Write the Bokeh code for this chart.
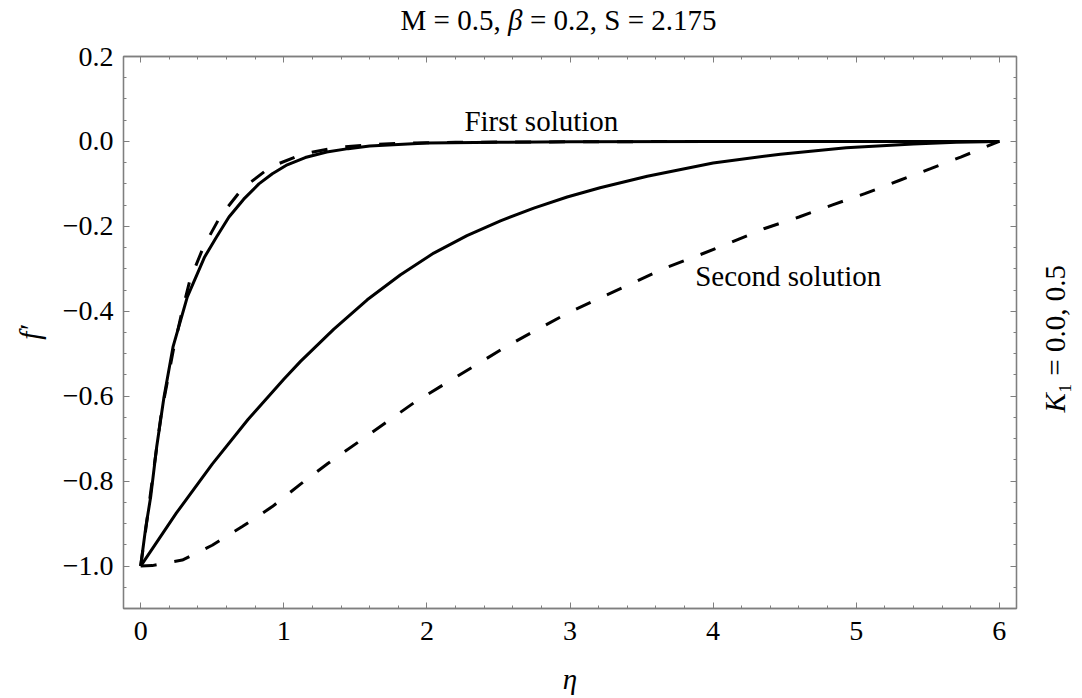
import math
from bokeh.plotting import figure
from bokeh.layouts import column, row
from bokeh.core.properties import value
from bokeh.models import (Range1d, LinearAxis, SingleIntervalTicker,
                          CustomJSTickFormatter, CustomLabelingPolicy, Label)
from bokeh.embed import file_html
from bokeh.resources import INLINE

# ---------------- data ----------------
eta_first_solid = [0.0, 0.035, 0.07, 0.112, 0.163, 0.226, 0.326, 0.447, 0.53,
                   0.617, 0.72, 0.826, 0.92, 1.024, 1.15, 1.3, 1.45, 1.6, 1.8,
                   2.0, 2.5, 3.0, 4.0, 5.0, 6.0]
fp_first_solid = [-1.0, -0.91, -0.837, -0.719, -0.602, -0.484, -0.366, -0.272,
                  -0.225, -0.178, -0.136, -0.100, -0.076, -0.055, -0.038,
                  -0.025, -0.017, -0.011, -0.007, -0.004, -0.002, -0.001,
                  0.0, 0.0, 0.0]

eta_first_dashed = [0.0, 0.035, 0.09, 0.144, 0.228, 0.286, 0.344, 0.438, 0.554,
                    0.71, 0.908, 1.129, 1.37, 1.63, 1.86, 2.2, 3.0, 4.0, 5.0,
                    6.0]
fp_first_dashed = [-1.0, -0.915, -0.775, -0.641, -0.492, -0.405, -0.327,
                   -0.249, -0.178, -0.111, -0.060, -0.030, -0.014, -0.007,
                   -0.004, -0.002, -0.001, 0.0, 0.0, 0.0]

eta_second_solid = [0.0, 0.25, 0.5, 0.75, 1.0, 1.117, 1.35, 1.583, 1.816,
                    2.048, 2.28, 2.514, 2.747, 2.98, 3.21, 3.54, 4.0, 4.47,
                    4.93, 5.4, 5.7, 6.0]
fp_second_solid = [-1.0, -0.875, -0.76, -0.655, -0.56, -0.518, -0.442, -0.373,
                   -0.314, -0.263, -0.222, -0.187, -0.157, -0.131, -0.109,
                   -0.082, -0.051, -0.030, -0.015, -0.006, -0.002, 0.0]

eta_second_dashed = [0.0, 0.08, 0.291, 0.5, 0.71, 0.92, 1.117, 1.31, 1.525,
                     1.722, 1.92, 2.13, 2.34, 2.55, 2.76, 2.98, 3.2, 3.43,
                     3.65, 3.9, 4.13, 4.36, 4.6, 4.83, 5.06, 5.3, 5.52, 5.73,
                     5.96, 6.0]
fp_second_dashed = [-1.0, -0.999, -0.986, -0.951, -0.907, -0.86, -0.807,
                    -0.758, -0.707, -0.66, -0.613, -0.57, -0.527, -0.484,
                    -0.445, -0.405, -0.37, -0.335, -0.30, -0.268, -0.237,
                    -0.205, -0.178, -0.15, -0.123, -0.092, -0.064, -0.037,
                    -0.005, 0.0]

title_parts = ["M = 0.5,", "\u03b2", "= 0.2, S = 2.175"]
x_label = "\u03b7"
y_label = "f\u2032"
right_parts = ["K", "\u2081 = 0.0, 0.5"]
first_label = "First solution"
second_label = "Second solution"

# ---------------- styling constants ----------------
FONT = "Liberation Serif"
FS = "29px"
TFS = "28px"
GRAY = "#7f7f7f"
TOP_H = 40
SIDE_W = 52
W, H = 1082, 698
MAIN_W = W - SIDE_W
MAIN_H = H - TOP_H
BL, BR = 123, 14             # main plot left / right borders (px)
FRAME_L, FRAME_R = BL, MAIN_W - BR
TX0 = 400                    # left edge of the title text (px)
TY = 19                      # title anchor (px from top)


def bare(fig):
    fig.outline_line_color = None
    fig.background_fill_color = "white"
    fig.border_fill_color = "white"
    fig.xgrid.visible = False
    fig.ygrid.visible = False
    fig.min_border_top = 0
    fig.min_border_bottom = 0


# ---------------- title strip (frame aligned with the main frame) ----------
pt = figure(width=MAIN_W, height=TOP_H, output_backend="svg",
            toolbar_location=None,
            x_range=Range1d(FRAME_L, FRAME_R), y_range=Range1d(TOP_H, 0),
            x_axis_location=None, y_axis_location=None)
bare(pt)
pt.min_border_left = BL
pt.min_border_right = BR
pt.text(x=[TX0], y=[TY], text=[title_parts[0]], text_font=value(FONT),
        text_font_size=FS, text_align="left", text_baseline="middle",
        text_color="black")
pt.text(x=[TX0 + 107.5], y=[TY], text=[title_parts[1]], text_font=value(FONT),
        text_font_size=FS, text_font_style="italic", text_align="left",
        text_baseline="middle", text_color="black")
pt.text(x=[TX0 + 129.5], y=[TY], text=[title_parts[2]], text_font=value(FONT),
        text_font_size=FS, text_align="left", text_baseline="middle",
        text_color="black")

# ---------------- main plot ----------------
p = figure(width=MAIN_W, height=MAIN_H, output_backend="svg",
           toolbar_location=None,
           x_range=Range1d(-0.12, 6.12), y_range=Range1d(-1.1, 0.2),
           x_axis_location=None, y_axis_location=None,
           min_border_left=BL, min_border_right=BR, min_border_top=16,
           min_border_bottom=90)
p.background_fill_color = "white"
p.border_fill_color = "white"
p.outline_line_color = GRAY
p.outline_line_width = 1.3
p.xgrid.visible = False
p.ygrid.visible = False

yfmt = CustomJSTickFormatter(
    code="return (tick < -1e-9 ? '\u2212' : '') + Math.abs(tick).toFixed(1);")

no_labels = CustomLabelingPolicy(
    code="for (const i of indices) { indices.unset(i) }\nreturn indices;")


def style_axis(ax, labels=True):
    ax.axis_line_color = GRAY
    ax.axis_line_width = 1.3
    ax.major_tick_line_color = GRAY
    ax.minor_tick_line_color = GRAY
    ax.major_tick_in = 6
    ax.major_tick_out = 0
    ax.minor_tick_in = 3
    ax.minor_tick_out = 0
    ax.major_tick_line_width = 1
    ax.minor_tick_line_width = 1
    ax.major_label_text_font = FONT
    ax.major_label_text_color = "black"
    ax.axis_label_text_font = FONT
    ax.axis_label_text_font_size = FS
    ax.axis_label_text_color = "black"
    ax.axis_label_text_font_style = "italic"
    if labels:
        ax.major_label_text_font_size = TFS
    else:
        ax.major_label_text_font_size = "1px"
        ax.major_label_standoff = 0
        ax.major_label_policy = no_labels


xb = LinearAxis(ticker=SingleIntervalTicker(interval=1, num_minor_ticks=5),
                axis_label=x_label)
style_axis(xb)
xb.major_label_standoff = 13
xb.axis_label_standoff = 20
p.add_layout(xb, "below")

xt = LinearAxis(ticker=SingleIntervalTicker(interval=1, num_minor_ticks=5))
style_axis(xt, labels=False)
p.add_layout(xt, "above")

yl = LinearAxis(ticker=SingleIntervalTicker(interval=0.2, num_minor_ticks=4),
                formatter=yfmt, axis_label=y_label)
style_axis(yl)
yl.major_label_standoff = 10
yl.axis_label_standoff = 14
p.add_layout(yl, "left")

yr = LinearAxis(ticker=SingleIntervalTicker(interval=0.2, num_minor_ticks=4))
style_axis(yr, labels=False)
p.add_layout(yr, "right")

# curves
p.line(eta_first_solid, fp_first_solid, line_color="black", line_width=3)
p.line(eta_second_solid, fp_second_solid, line_color="black", line_width=3)
p.line(eta_first_dashed, fp_first_dashed, line_color="black", line_width=3,
       line_dash="16 18")
p.line(eta_second_dashed, fp_second_dashed, line_color="black", line_width=3,
       line_dash="16 18")

# in-plot labels
p.add_layout(Label(x=2.8, y=0.049, text=first_label, text_font=FONT,
                   text_font_size=FS, text_align="center",
                   text_baseline="middle", text_color="black"))
p.add_layout(Label(x=4.525, y=-0.318, text=second_label, text_font=FONT,
                   text_font_size=FS, text_align="center",
                   text_baseline="middle", text_color="black"))

# ---------------- right-side label strip (full height) ----------------
ps = figure(width=SIDE_W, height=H, output_backend="svg",
            toolbar_location=None,
            x_range=Range1d(0, SIDE_W), y_range=Range1d(H, 0),
            x_axis_location=None, y_axis_location=None)
bare(ps)
ps.min_border_left = 0
ps.min_border_right = 0
ps.text(x=[24], y=[412], text=[right_parts[0]], text_font=value(FONT),
        text_font_size=FS, text_font_style="italic", text_align="left",
        text_baseline="middle", angle=math.pi / 2, text_color="black")
ps.text(x=[24], y=[392.5], text=[right_parts[1]], text_font=value(FONT),
        text_font_size=FS, text_align="left", text_baseline="middle",
        angle=math.pi / 2, text_color="black")

layout = row(column(pt, p, spacing=0), ps, spacing=0)

open("out.html", "w").write(file_html(layout, INLINE))
